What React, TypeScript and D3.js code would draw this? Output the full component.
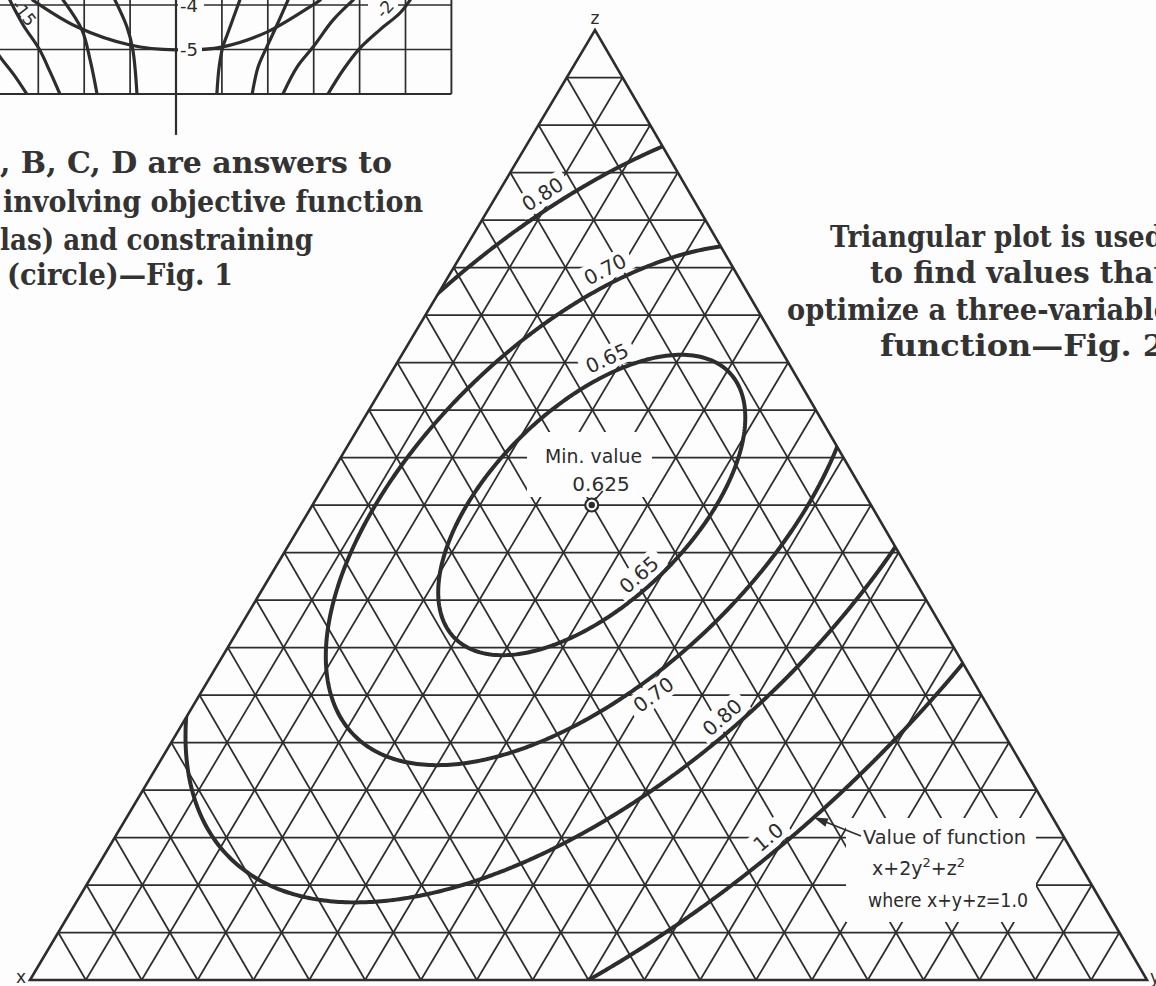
import React from 'react';
import * as d3 from 'd3';

const W = 1156;
const H = 986;
const INK = '#2d2d2d';
const PAPER = '#fdfdfd';

// ---------- Fig. 2: contours of x + 2y^2 + z^2 on the plane x + y + z = 1 ----------
const levels = [0.65, 0.7, 0.8, 1.0];
const levelText = ['0.65', '0.70', '0.80', '1.0'];
const minimum = { x: 0.25, y: 0.25, z: 0.5 };
const minimumValue = 0.625;
const divisions = 20;

// ---------- Fig. 1 fragment (upper-left corner of the page) ----------
const fig1Verticals = [-3, -2, -1, 1, 2, 3, 4, 5];
const fig1Horizontals = [-4, -5];
const fig1TickText = ['-4', '-5'];
const fig1Parabola = [
  [-3.12, -3.89], [-2.16, -4.49], [-1.0, -4.9], [0, -5.01],
  [1.02, -4.94], [1.98, -4.61], [2.98, -4.0], [3.14, -3.89],
];
const fig1Arcs = [
  [[-4.0, -4.9], [-3.83, -5.17], [-3.53, -5.57], [-3.25, -6.0]],
  [[-3.62, -3.89], [-3.33, -4.45], [-2.98, -4.99], [-2.74, -5.51], [-2.53, -6.0]],
  [[-2.46, -3.89], [-2.05, -4.56], [-1.87, -5.24], [-1.72, -6.0]],
  [[-1.33, -3.89], [-1.07, -4.49], [-0.94, -5.01], [-0.85, -6.0]],
  [[1.39, -3.89], [1.13, -4.63], [1.02, -4.94], [0.94, -5.39], [0.89, -6.0]],
  [[2.44, -3.89], [2.2, -4.45], [1.98, -4.94], [1.79, -5.39], [1.66, -6.0]],
  [[3.86, -3.89], [3.42, -4.34], [2.99, -4.94], [2.64, -5.39], [2.33, -6.0]],
  [[5.1, -3.89], [4.88, -4.18], [4.44, -4.56], [3.99, -4.99], [3.64, -5.46], [3.31, -6.0]],
];

// ---------- captions ----------
const fig1Caption = [
  ', B, C, D are answers to',
  'involving objective function',
  'las) and constraining',
  '(circle)\u2014Fig. 1',
];
const fig2Caption = [
  'Triangular plot is used',
  'to find values that',
  'optimize a three-variable',
  'function\u2014Fig. 2',
];

// ---------- layout ----------
const TRI = { left: 30, right: 1147, base: 980, top: 30, apexX: 595 };
const fig1Layout = [
  { x: 0, y: 173, w: 392 },
  { x: 3, y: 212, w: 420 },
  { x: 0, y: 250, w: 313 },
  { x: 7, y: 285, w: 226 },
];
const fig2Layout = [
  { x: 830, y: 247, w: 333 },
  { x: 870, y: 283, w: 297 },
  { x: 787, y: 320, w: 384 },
  { x: 880, y: 356, w: 285 },
];
// rough spots for the contour labels (level index, point near the label)
const labelSpots = [
  { level: 2, at: [541, 192] },
  { level: 1, at: [603, 266] },
  { level: 0, at: [603, 352] },
  { level: 0, at: [642, 578] },
  { level: 1, at: [660, 703] },
  { level: 2, at: [716, 710] },
  { level: 3, at: [769, 838] },
];
const LABEL_OFFSET = 15;
const LABEL_FONT = 20;

const along = d3.scaleLinear().domain([0, 1]).range([TRI.left, TRI.right]);
const rise = d3.scaleLinear().domain([0, 1]).range([TRI.base, TRI.top]);

function toScreen(y: number, z: number): [number, number] {
  return [along(y) + (TRI.apexX - TRI.left) * z, rise(z)];
}
function toTernary(px: number, py: number): [number, number, number] {
  const z = rise.invert(py);
  const y = along.invert(px - (TRI.apexX - TRI.left) * z);
  return [1 - y - z, y, z];
}
function objective(x: number, y: number, z: number) {
  return x + 2 * y * y + z * z;
}
function F(px: number, py: number) {
  const [x, y, z] = toTernary(px, py);
  return objective(x, y, z);
}
function grad(px: number, py: number): [number, number] {
  const e = 0.5;
  return [(F(px + e, py) - F(px - e, py)) / (2 * e), (F(px, py + e) - F(px, py - e)) / (2 * e)];
}
function snapToLevel(level: number, p0: number[]): [number, number] {
  let p: [number, number] = [p0[0], p0[1]];
  for (let k = 0; k < 40; k++) {
    const [gx, gy] = grad(p[0], p[1]);
    const g2 = gx * gx + gy * gy;
    const d = F(p[0], p[1]) - level;
    p = [p[0] - (d * gx) / g2, p[1] - (d * gy) / g2];
  }
  return p;
}
function textWidth(s: string, size: number) {
  let w = 0;
  for (const c of s) w += c === '.' ? 0.318 : 0.636;
  return w * size;
}

function buildModel() {
  const t = d3.range(1, divisions).map((k) => k / divisions);
  const grid: [number, number][][] = [];
  t.forEach((v) => {
    grid.push([toScreen(0, v), toScreen(1 - v, v)]); // z = const
    grid.push([toScreen(1 - v, 0), toScreen(0, 1 - v)]); // x = const
    grid.push([toScreen(v, 0), toScreen(v, 1 - v)]); // y = const
  });
  const corners = [toScreen(0, 0), toScreen(1, 0), toScreen(0, 1)];

  // sampled field -> contour rings
  const STEP = 3;
  const GX0 = -60;
  const GY0 = -60;
  const nx = Math.ceil((W + 120) / STEP) + 1;
  const ny = Math.ceil((H + 120) / STEP) + 1;
  const values: number[] = new Array(nx * ny);
  for (let j = 0; j < ny; j++) {
    for (let i = 0; i < nx; i++) {
      values[j * nx + i] = -F(GX0 + i * STEP, GY0 + j * STEP);
    }
  }
  const polys = d3.contours().size([nx, ny]).thresholds(levels.map((l) => -l))(values);
  const tf = d3.geoTransform({
    point: function (x: number, y: number) {
      this.stream.point(GX0 + (x - 0.5) * STEP, GY0 + (y - 0.5) * STEP);
    },
  });
  const path = d3.geoPath(tf);
  const contourPaths = polys.map((p) => path(p as any) || '');

  const labels = labelSpots.map((s) => {
    const level = levels[s.level];
    const p = snapToLevel(level, s.at);
    const [gx, gy] = grad(p[0], p[1]);
    const gl = Math.hypot(gx, gy);
    const n = [gx / gl, gy / gl];
    const side = Math.sign((s.at[0] - p[0]) * n[0] + (s.at[1] - p[1]) * n[1]) || -1;
    let ang = (Math.atan2(gx, -gy) * 180) / Math.PI;
    if (ang > 90) ang -= 180;
    if (ang < -90) ang += 180;
    const text = levelText[s.level];
    return {
      text,
      cx: p[0] + side * LABEL_OFFSET * n[0],
      cy: p[1] + side * LABEL_OFFSET * n[1],
      ang,
      w: textWidth(text, LABEL_FONT),
    };
  });

  const minPt = toScreen(minimum.y, minimum.z);
  const arrowTip = snapToLevel(levels[3], [818, 822]);
  const arrowStart = [861, 836];
  const ux = arrowTip[0] - arrowStart[0];
  const uy = arrowTip[1] - arrowStart[1];
  const ul = Math.hypot(ux, uy);
  const u = [ux / ul, uy / ul];
  const base = [arrowTip[0] - 14 * u[0], arrowTip[1] - 14 * u[1]];
  const perp = [-u[1], u[0]];
  const arrowHead = [
    arrowTip,
    [base[0] + 4.5 * perp[0], base[1] + 4.5 * perp[1]],
    [base[0] - 4.5 * perp[0], base[1] - 4.5 * perp[1]],
  ];

  return { grid, corners, contourPaths, labels, minPt, arrowStart, base, arrowHead };
}

// Fig. 1 scales
const fx = d3.scaleLinear().domain([0, 1]).range([176, 221.9]);
const fy = d3.scaleLinear().domain([-4, -5]).range([5, 49.5]);
const fig1Line = d3
  .line<number[]>()
  .x((d) => fx(d[0]))
  .y((d) => fy(d[1]))
  .curve(d3.curveCatmullRom.alpha(0.5));

function Fig1() {
  const right = fx(6);
  const bottom = fy(-6);
  return (
    <g>
      <defs>
        <clipPath id="fig1clip">
          <rect x={0} y={-20} width={right} height={bottom + 20} />
        </clipPath>
      </defs>
      {fig1Verticals.map((v) => (
        <line key={'v' + v} x1={fx(v)} x2={fx(v)} y1={-5} y2={bottom} stroke={INK} strokeWidth={1.7} />
      ))}
      <line x1={right} x2={right} y1={-5} y2={bottom} stroke={INK} strokeWidth={1.9} />
      {fig1Horizontals.map((h) => (
        <line key={'h' + h} x1={0} x2={right} y1={fy(h)} y2={fy(h)} stroke={INK} strokeWidth={1.7} />
      ))}
      <line x1={0} x2={right} y1={bottom} y2={bottom} stroke={INK} strokeWidth={1.9} />
      <line x1={fx(0)} x2={fx(0)} y1={-5} y2={fy(-6.92)} stroke={INK} strokeWidth={2.2} />
      {/* gaps behind the tick labels */}
      <rect x={fx(0) + 2} y={fy(-4) - 8} width={26} height={16} fill={PAPER} />
      <rect x={368} y={-2} width={30} height={16} fill={PAPER} />
      <g clipPath="url(#fig1clip)" fill="none" stroke={INK} strokeWidth={3.2} strokeLinecap="round">
        {fig1Arcs.map((c, i) => (
          <path key={i} d={fig1Line(c) || ''} />
        ))}
        <path d={fig1Line(fig1Parabola) || ''} />
      </g>
      <rect x={fx(0) + 2} y={fy(-5) - 8} width={24} height={16} fill={PAPER} />
      <g fontFamily="DejaVu Sans, sans-serif" fontSize={18} fill={INK}>
        {fig1Horizontals.map((h, i) => (
          <text key={h} x={fx(0) + 4} y={fy(h) + 6.5}>
            {fig1TickText[i]}
          </text>
        ))}
        <text transform="translate(24,13) rotate(52)" textAnchor="middle" dy="0.35em" fontSize={17}>
          -15
        </text>
        <text transform="translate(385,9) rotate(-48)" textAnchor="middle" dy="0.35em" fontSize={17}>
          -2
        </text>
      </g>
    </g>
  );
}

export default function App() {
  const m = React.useMemo(() => buildModel(), []);
  const triPts = m.corners.map((p) => p.join(',')).join(' ');
  const capFont = 'DejaVu Serif, serif';
  return (
    <svg
      width={W}
      height={H}
      viewBox={`0 0 ${W} ${H}`}
      style={{ position: 'absolute', left: 0, top: 0, display: 'block' }}
    >
      <rect x={0} y={0} width={W} height={H} fill={PAPER} />
      <Fig1 />

      {/* captions */}
      <g fontFamily={capFont} fontWeight="bold" fontSize={29} fill="#333">
        {fig1Caption.map((s, i) => (
          <text key={i} x={fig1Layout[i].x} y={fig1Layout[i].y} textLength={fig1Layout[i].w} lengthAdjust="spacingAndGlyphs">
            {s}
          </text>
        ))}
        {fig2Caption.map((s, i) => (
          <text key={i} x={fig2Layout[i].x} y={fig2Layout[i].y} textLength={fig2Layout[i].w} lengthAdjust="spacingAndGlyphs">
            {s}
          </text>
        ))}
      </g>

      <defs>
        <clipPath id="tri">
          <polygon points={triPts} />
        </clipPath>
      </defs>

      {/* triangular grid, 0.05 steps */}
      <g stroke={INK} strokeWidth={1.75}>
        {m.grid.map((l, i) => (
          <line key={i} x1={l[0][0]} y1={l[0][1]} x2={l[1][0]} y2={l[1][1]} />
        ))}
      </g>

      {/* white-out behind lettering */}
      <g fill={PAPER}>
        {m.labels.map((l, i) => (
          <rect
            key={i}
            x={-l.w / 2 - 6}
            y={-12}
            width={l.w + 12}
            height={24}
            transform={`translate(${l.cx},${l.cy}) rotate(${l.ang})`}
          />
        ))}
        <rect x={527} y={432} width={125} height={65} />
        <rect x={846} y={818} width={190} height={104} />
      </g>

      <polygon points={triPts} fill="none" stroke={INK} strokeWidth={2.6} strokeLinejoin="miter" />

      {/* contours */}
      <g clipPath="url(#tri)" fill="none" stroke={INK} strokeWidth={4} strokeLinejoin="round">
        {m.contourPaths.map((d, i) => (
          <path key={i} d={d} />
        ))}
      </g>

      <g fontFamily="DejaVu Sans, sans-serif" fill={INK}>
        {m.labels.map((l, i) => (
          <text
            key={i}
            transform={`translate(${l.cx},${l.cy}) rotate(${l.ang})`}
            textAnchor="middle"
            dy="0.36em"
            fontSize={LABEL_FONT}
          >
            {l.text}
          </text>
        ))}

        {/* minimum */}
        <text x={593.5} y={463} textAnchor="middle" fontSize={19} textLength={97} lengthAdjust="spacingAndGlyphs">
          Min. value
        </text>
        <text x={601} y={491} textAnchor="middle" fontSize={20}>
          {d3.format('.3f')(minimumValue)}
        </text>
        <line x1={m.minPt[0] + 4} y1={m.minPt[1] - 6} x2={m.minPt[0] + 11} y2={m.minPt[1] - 14} stroke={INK} strokeWidth={1.6} />
        <circle cx={m.minPt[0]} cy={m.minPt[1]} r={6.5} fill={PAPER} stroke={INK} strokeWidth={2.2} />
        <circle cx={m.minPt[0]} cy={m.minPt[1]} r={3.2} fill={INK} />

        {/* function note */}
        <line x1={m.arrowStart[0]} y1={m.arrowStart[1]} x2={m.base[0]} y2={m.base[1]} stroke={INK} strokeWidth={1.6} />
        <polygon points={m.arrowHead.map((p) => p.join(',')).join(' ')} fill={INK} />
        <text x={863} y={844} fontSize={19} textLength={163} lengthAdjust="spacingAndGlyphs">
          Value of function
        </text>
        <text x={872} y={875} fontSize={19}>
          x+2y
          <tspan dy={-8} fontSize={13}>
            2
          </tspan>
          <tspan dy={8}>+z</tspan>
          <tspan dy={-8} fontSize={13}>
            2
          </tspan>
        </text>
        <text x={868} y={907} fontSize={19} textLength={160} lengthAdjust="spacingAndGlyphs">
          where x+y+z=1.0
        </text>

        {/* corner letters */}
        <text x={m.corners[2][0]} y={m.corners[2][1] - 6} textAnchor="middle" fontSize={17}>
          z
        </text>
        <text x={m.corners[0][0] - 9} y={m.corners[0][1] + 3} textAnchor="middle" fontSize={17}>
          x
        </text>
        <text x={m.corners[1][0] + 8} y={m.corners[1][1] + 3} textAnchor="middle" fontSize={17}>
          y
        </text>
      </g>
    </svg>
  );
}
